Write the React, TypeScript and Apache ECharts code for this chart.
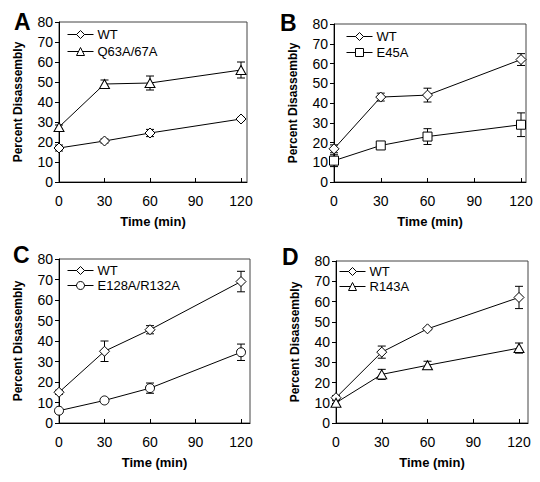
import React, { useEffect, useRef } from "react";
import * as echarts from "echarts";

const times = [0, 30, 60, 120];
const xTicks = [0, 30, 60, 90, 120];

const aWT = [17, 20.5, 24.5, 31.5];
const aWTErr = [1.5, 1, 1.8, 0.8];
const aMut = [27.5, 49, 49.5, 56];
const aMutErr = [1, 2, 3.5, 4];

const bWT = [16.8, 43, 44, 62];
const bWTErr = [2, 2, 3.5, 3];
const bMut = [10.8, 18.5, 23, 29];
const bMutErr = [3, 1, 4, 6];

const cWT = [15, 35, 45.5, 69];
const cWTErr = [1, 5, 2, 5];
const cMut = [6, 11, 17, 34.5];
const cMutErr = [0.5, 0.8, 2.5, 4];

const dWT = [12.5, 35, 46.5, 62];
const dWTErr = [1, 3, 0.5, 5.5];
const dMut = [10, 24, 28.5, 37];
const dMutErr = [1, 2.5, 2, 2.5];

const FONT = '"Liberation Sans", Arial, Helvetica, sans-serif';

type Panel = {
  letter: string;
  mutName: string;
  mutSymbol: string;
  wt: number[];
  wtErr: number[];
  mut: number[];
  mutErr: number[];
  left: number;
  top: number;
  bottom: number;
  x120: number;
  right: number;
  letterPos: [number, number];
  legendPos: [number, number];
  legendGap: number;
};

const panels: Panel[] = [
  { letter: "A", mutName: "Q63A/67A", mutSymbol: "triangle", wt: aWT, wtErr: aWTErr, mut: aMut, mutErr: aMutErr,
    left: 59, top: 22, bottom: 182, x120: 241, right: 247, letterPos: [14, 10], legendPos: [67, 28], legendGap: 4 },
  { letter: "B", mutName: "E45A", mutSymbol: "rect", wt: bWT, wtErr: bWTErr, mut: bMut, mutErr: bMutErr,
    left: 334, top: 24, bottom: 182, x120: 521, right: 526, letterPos: [280, 11], legendPos: [346, 30], legendGap: 3 },
  { letter: "C", mutName: "E128A/R132A", mutSymbol: "circle", wt: cWT, wtErr: cWTErr, mut: cMut, mutErr: cMutErr,
    left: 59, top: 259, bottom: 423, x120: 241, right: 250, letterPos: [13, 243], legendPos: [67, 264], legendGap: 2 },
  { letter: "D", mutName: "R143A", mutSymbol: "triangle", wt: dWT, wtErr: dWTErr, mut: dMut, mutErr: dMutErr,
    left: 336, top: 261, bottom: 423, x120: 519, right: 528, letterPos: [282, 245], legendPos: [339, 265], legendGap: 2 },
];

function errorSeries(grid: number, vals: number[], errs: number[]) {
  return {
    type: "custom",
    xAxisIndex: grid,
    yAxisIndex: grid,
    z: 1,
    silent: true,
    data: times.map((t, i) => [t, vals[i], errs[i]]),
    encode: { x: 0, y: 1 },
    renderItem: (params: any, api: any) => {
      const x = api.value(0);
      const y = api.value(1);
      const e = api.value(2);
      const hi = api.coord([x, y + e]);
      const lo = api.coord([x, y - e]);
      const w = 4;
      const st = { stroke: "#000", lineWidth: 1 };
      return {
        type: "group",
        children: [
          { type: "line", shape: { x1: hi[0], y1: hi[1], x2: lo[0], y2: lo[1] }, style: st },
          { type: "line", shape: { x1: hi[0] - w, y1: hi[1], x2: hi[0] + w, y2: hi[1] }, style: st },
          { type: "line", shape: { x1: lo[0] - w, y1: lo[1], x2: lo[0] + w, y2: lo[1] }, style: st },
        ],
      };
    },
  };
}

function lineSeries(grid: number, name: string, symbol: string, vals: number[]) {
  const size = symbol === "diamond" ? 10 : symbol === "triangle" ? [10, 9] : 9;
  return {
    type: "line",
    name,
    xAxisIndex: grid,
    yAxisIndex: grid,
    z: 3,
    symbol,
    symbolSize: size,
    showAllSymbol: true,
    data: times.map((t, i) => [t, vals[i]]),
    lineStyle: { color: "#000", width: 1 },
    itemStyle: { color: "#fff", borderColor: "#000", borderWidth: 1 },
  };
}

export default function App() {
  const ref = useRef<HTMLDivElement>(null);
  useEffect(() => {
    if (!ref.current) return;
    const chart = echarts.init(ref.current, undefined, { renderer: "svg" });
    const grids: any[] = [];
    const xAxes: any[] = [];
    const yAxes: any[] = [];
    const series: any[] = [];
    const legends: any[] = [];
    const titles: any[] = [];
    panels.forEach((p, i) => {
      const pxPerUnit = (p.x120 - p.left) / 120;
      const xMax = (p.right - p.left) / pxPerUnit;
      grids.push({
        left: p.left,
        top: p.top,
        width: p.right - p.left,
        height: p.bottom - p.top,
        show: true,
        borderColor: "#444",
        borderWidth: 1,
        backgroundColor: "transparent",
      });
      xAxes.push({
        type: "value",
        gridIndex: i,
        min: 0,
        max: xMax,
        name: "Time (min)",
        nameLocation: "middle",
        nameGap: 33,
        nameTextStyle: { fontFamily: FONT, fontWeight: "bold", fontSize: 13, color: "#000" },
        axisLine: { show: true, lineStyle: { color: "#000", width: 1 } },
        axisTick: { show: true, inside: true, length: 4, customValues: xTicks, lineStyle: { color: "#000" } },
        axisLabel: { customValues: xTicks, fontFamily: FONT, fontSize: 14, color: "#000", margin: 12 },
        splitLine: { show: false },
      });
      yAxes.push({
        type: "value",
        gridIndex: i,
        min: 0,
        max: 80,
        interval: 10,
        name: "Percent Disassembly",
        nameLocation: "middle",
        nameGap: 35,
        nameTextStyle: { fontFamily: FONT, fontWeight: "bold", fontSize: 12, color: "#000" },
        axisLine: { show: true, lineStyle: { color: "#000", width: 1 } },
        axisTick: { show: true, inside: false, length: 4, lineStyle: { color: "#000" } },
        axisLabel: { fontFamily: FONT, fontSize: 14, color: "#000", margin: 6 },
        splitLine: { show: false },
      });
      series.push(errorSeries(i, p.wt, p.wtErr));
      series.push(errorSeries(i, p.mut, p.mutErr));
      series.push(lineSeries(i, "WT", "diamond", p.wt));
      series.push(lineSeries(i, p.mutName, p.mutSymbol, p.mut));
      legends.push({
        data: ["WT", p.mutName],
        orient: "vertical",
        left: p.legendPos[0],
        top: p.legendPos[1],
        itemWidth: 26,
        itemHeight: 10,
        itemGap: p.legendGap,
        padding: 0,
        selectedMode: false,
        lineStyle: { width: 1, color: "#000" },
        itemStyle: { borderWidth: 1 },
        textStyle: { fontFamily: FONT, fontSize: 13, lineHeight: 13, color: "#000", padding: [0, 0, 0, -1] },
      });
      titles.push({
        text: p.letter,
        left: p.letterPos[0],
        top: p.letterPos[1],
        padding: 0,
        textStyle: { fontFamily: FONT, fontWeight: "bold", fontSize: 23, color: "#000" },
      });
    });
    chart.setOption({
      animation: false,
      backgroundColor: "#fff",
      title: titles,
      grid: grids,
      xAxis: xAxes,
      yAxis: yAxes,
      legend: legends,
      series,
    });
    return () => chart.dispose();
  }, []);
  return (
    <div
      ref={ref}
      style={{ position: "absolute", left: 0, top: 0, width: 540, height: 482 }}
    />
  );
}
